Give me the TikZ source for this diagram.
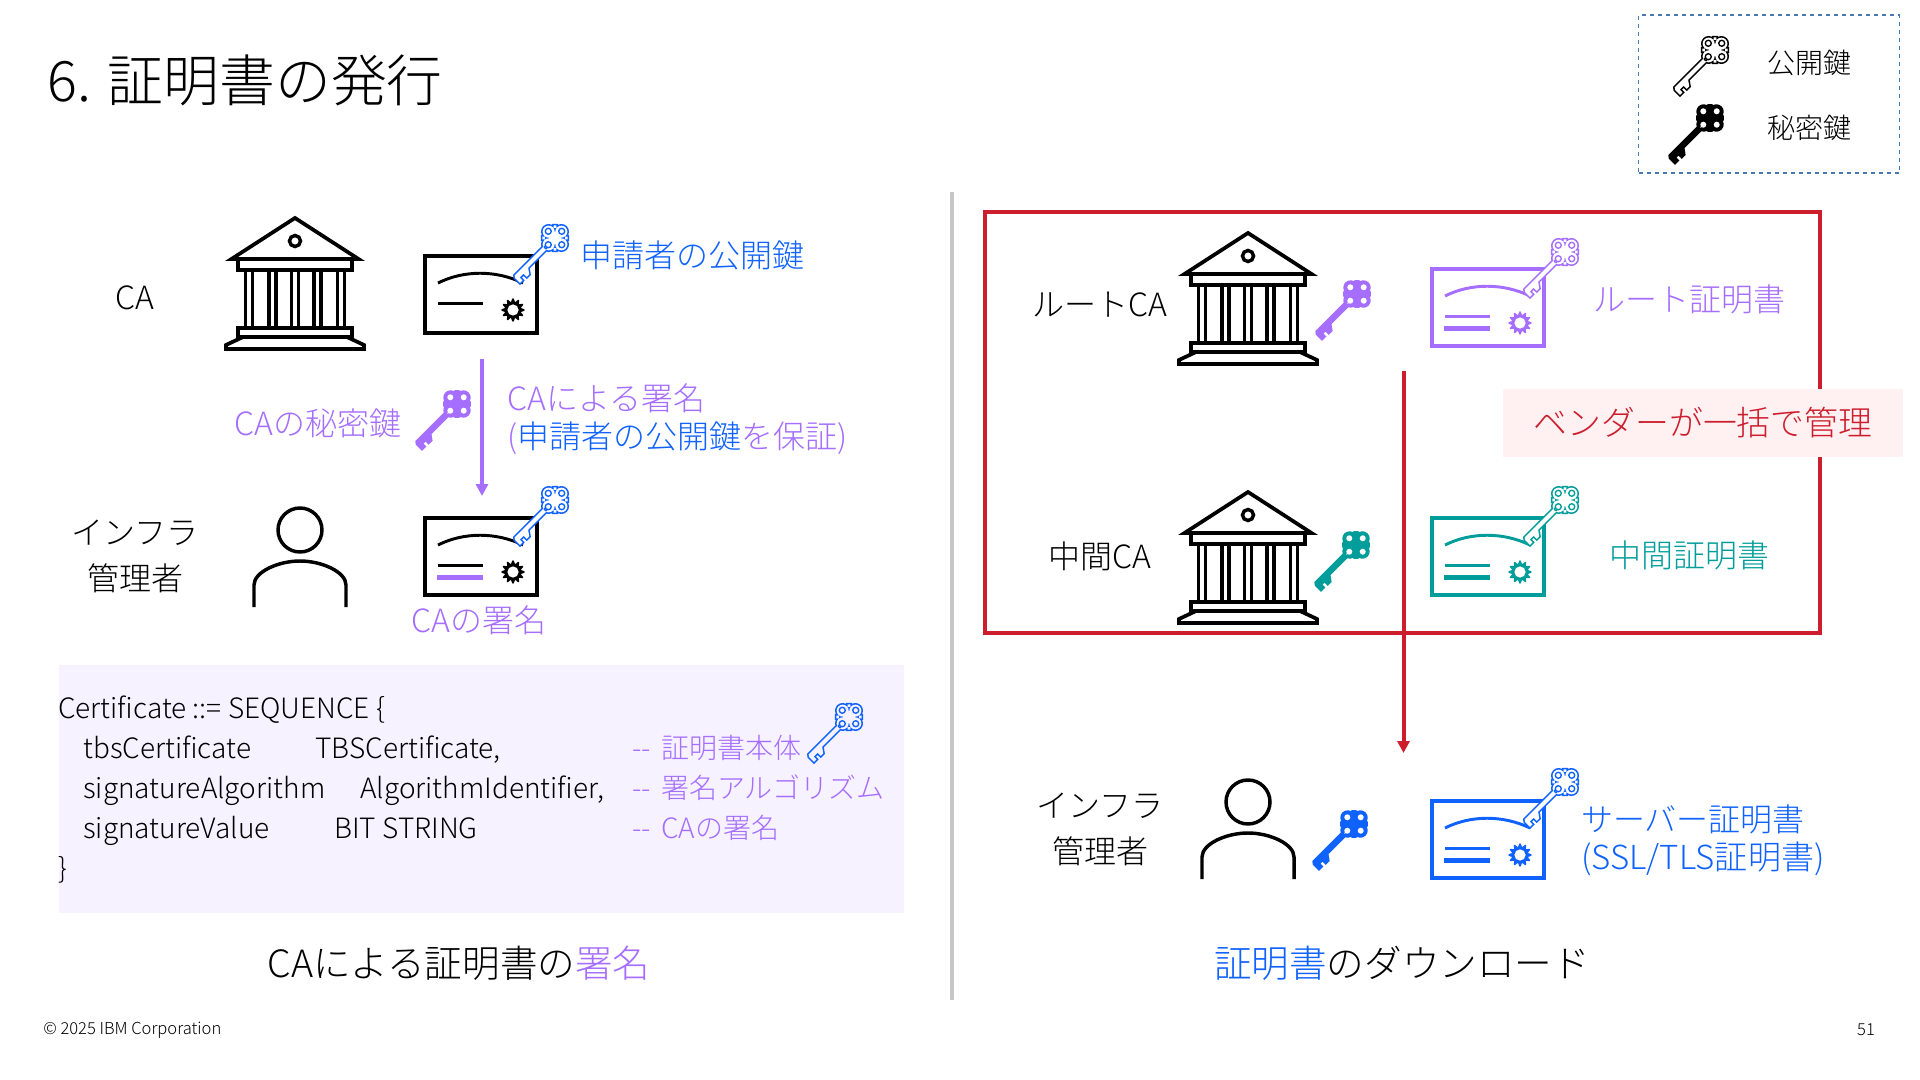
\documentclass[tikz,border=0pt]{standalone}
\usepackage{fontspec}
\setmainfont{Noto Sans CJK JP Light}
\definecolor{capurple}{RGB}{165, 110, 255}
\definecolor{certblue}{RGB}{15, 98, 254}
\definecolor{midteal}{RGB}{0, 157, 154}
\definecolor{vendred}{RGB}{205, 30, 45}
\definecolor{codebg}{RGB}{246, 242, 255}
\definecolor{vendbg}{RGB}{255, 241, 241}
\definecolor{legblue}{RGB}{70, 120, 180}
\usetikzlibrary{arrows.meta}
\def\keyshape{(0,0) circle (6) (0,-9) circle (6) (0,9) circle (6) (-9,0) circle (6) (9,0) circle (6)
  (8,8) circle (1.8) (8,-8) circle (1.8) (-8,8) circle (1.8) (-8,-8) circle (1.8)
  (10,2) -- (55,2) -- (56.5,0) -- (56.5,-7) -- (53,-7) -- (53,-3) -- (47.5,-3) -- (47.5,-7.5) -- (44,-7.5) -- (40,-2) -- (10,-2) -- cycle}
\def\keyholes{(0,-9.5) circle (3) (0,9.5) circle (3) (-9.5,0) circle (3) (9.5,0) circle (3)}
\begin{document}
\begin{tikzpicture}[
  x=0.75pt, y=-0.75pt,
  lbl/.style={font=\fontsize{24}{34.5}\selectfont, align=center, inner sep=0pt},
  legtxt/.style={font=\fontsize{21}{24}\selectfont, inner sep=0pt},
  codetxt/.style={font=\fontsize{21}{24}\selectfont, anchor=base west, inner sep=0pt},
  captxt/.style={font=\fontsize{28.2}{32}\selectfont, inner sep=0pt},
  pics/building/.style={code={
    \draw[line width=2.8pt, line join=miter] (-63.5,41) -- (0,0) -- (63.5,41) -- cycle;
    \draw[line width=2.6pt] (0,23) circle (5.5);
    \draw[line width=2.8pt] (-57,41) rectangle (57,52);
    \draw[line width=2.6pt] (-49.5,52) -- (-49.5,110) (-42.5,52) -- (-42.5,110)
      (-26,52) -- (-26,110) (-19,52) -- (-19,110) (-3.5,52) -- (-3.5,110) (3.5,52) -- (3.5,110)
      (19,52) -- (19,110) (26,52) -- (26,110) (42.5,52) -- (42.5,110) (49.5,52) -- (49.5,110);
    \draw[line width=2.8pt] (-57,110) rectangle (57,119);
    \draw[line width=2.8pt] (-52,119) -- (-69,127) -- (-69,131) -- (69,131) -- (69,127) -- (52,119);
  }},
  pics/certbox/.style n args={2}{code={
    \draw[#1, line width=2.6pt] (0,0) rectangle (112,77);
    \draw[#1, line width=2.2pt] (13,27) .. controls (39,14) and (71,14) .. (98,27);
    \draw[#1, line width=2.2pt] (13,47.5) -- (58,47.5);
    \draw[draw=#2, line width=3.4pt] (12,59.5) -- (58,59.5);
    \fill[#1, shift={(88,54)}] plot[samples=97, domain=0:360] (\x:{10+1.7*cos(12*\x)}) -- cycle;
    \fill[white] (88,54) circle (5.6);
  }},
  pics/person/.style={code={
    \draw[line width=2.6pt] (0,0) circle (22);
    \draw[line width=2.6pt] (-46,77) -- (-46,55) .. controls (-46,42) and (-22,31) .. (0,31) .. controls (22,31) and (46,42) .. (46,55) -- (46,77);
  }},
  pics/keyline/.style n args={2}{code={
    \path[draw=#1, line width=2.4pt, rotate=225] \keyshape;
    \path[fill=#2, rotate=225] \keyshape;
    \draw[#1, line width=1pt, fill=#2, rotate=225] \keyholes;
  }},
  pics/keysolid/.style={code={
    \path[fill=#1, draw=#1, line width=2pt, rotate=225] \keyshape;
    \fill[white, rotate=225] \keyholes;
  }}
]
  \useasboundingbox (0,0) rectangle (1920,1080);
  \node[anchor=west, inner sep=0pt, font=\fontsize{41.9}{48}\selectfont] (pagetitle) at (47,80) {6. 証明書の発行};

  % legend
  \node[draw=legblue, dashed, line width=1pt, inner sep=0pt, minimum width=195.5pt, minimum height=118.5pt] (legendbox) at (1769,94) {};
  \pic at (1715,50) {keyline={black}{white}};
  \pic at (1710,118) {keysolid=black};
  \node[legtxt] (legpub) at (1809,63) {公開鍵};
  \node[legtxt] (legpriv) at (1809,128) {秘密鍵};

  % left side
  \draw[line width=3.4pt, color=black!22] (952,192) coordinate (divtop) -- (952,1000) coordinate (divbot);
  \node[lbl] (calabel) at (135,298) {CA};
  \pic at (295,218) {building};
  \pic at (425,256) {certbox={black}{none}};
  \pic at (555,238) {keyline={certblue}{white}};
  \node[lbl, text=certblue] (pubkeylabel) at (692,255) {申請者の公開鍵};
  \node[lbl, text=capurple] (privlabel) at (318,423) {CAの秘密鍵};
  \pic at (457,404) {keysolid=capurple};
  \coordinate (signtop) at (482,359);
  \coordinate (signbot) at (482,496);
  \draw[capurple, line width=3pt, -{Triangle[length=9pt,width=9pt]}] (signtop) -- (signbot);
  \node[lbl, anchor=west, text=capurple] (signlabel) at (507,398.5) {CAによる署名};
  \node[lbl, anchor=west, text=capurple] (signlabeltwo) at (507,438) {(\textcolor{certblue}{申請者の公開鍵}を保証)};
  \node[lbl] (infraleft) at (135,556.5) {インフラ\\管理者};
  \pic at (300,530) {person};
  \pic at (425,518) {certbox={black}{capurple}};
  \pic at (555,500) {keyline={certblue}{white}};
  \node[lbl, text=capurple] (sigcap) at (479,620) {CAの署名};

  % code block
  \node[fill=codebg, inner sep=0pt, minimum width=634pt, minimum height=186.5pt] (codebox) at (481.5,789) {};
  \node[codetxt] (codeline) at (58,718) {Certificate ::= SEQUENCE \{};
  \node[codetxt] (tbsname) at (83,758) {tbsCertificate};
  \node[codetxt] (tbstype) at (315,758) {TBSCertificate,};
  \node[codetxt, text=capurple] (tbsnote) at (632,758) {-{}-\hspace{3pt} 証明書本体};
  \node[codetxt] (algname) at (83,798) {signatureAlgorithm};
  \node[codetxt] (algtype) at (360,798) {AlgorithmIdentifier,};
  \node[codetxt, text=capurple] (algnote) at (632,798) {-{}-\hspace{3pt} 署名アルゴリズム};
  \node[codetxt] (valname) at (83,838) {signatureValue};
  \node[codetxt] (valtype) at (334,838) {BIT STRING};
  \node[codetxt, text=capurple] (valnote) at (632,838) {-{}-\hspace{3pt} CAの署名};
  \node[codetxt] (codeend) at (58,878) {\}};
  \pic at (849,717) {keyline={certblue}{codebg}};
  \node[captxt] (leftcap) at (459,963) {CAによる証明書の\textcolor{capurple}{署名}};

  % right side
  \node[draw=vendred, line width=3.3pt, inner sep=0pt, minimum width=626.5pt, minimum height=316pt] (vendorbox) at (1402.5,422.5) {};
  \coordinate (dltop) at (1403.5,371);
  \coordinate (dlbot) at (1403.5,753);
  \draw[vendred, line width=3pt, -{Triangle[length=9pt,width=9pt]}] (dltop) -- (dlbot);
  \node[lbl] (rootlabel) at (1100,305) {ルートCA};
  \pic at (1248,233) {building};
  \pic at (1357,294) {keysolid=capurple};
  \pic at (1432,269) {certbox={capurple}{capurple}};
  \pic at (1565,252) {keyline={capurple}{white}};
  \node[lbl, text=capurple] (rootcert) at (1689,299) {ルート証明書};
  \node[lbl] (midlabel) at (1100,556) {中間CA};
  \pic at (1248,492) {building};
  \pic at (1356,545) {keysolid=midteal};
  \pic at (1432,518) {certbox={midteal}{midteal}};
  \pic at (1565,500) {keyline={midteal}{white}};
  \node[lbl, text=midteal] (midcert) at (1689,555) {中間証明書};
  \node[fill=vendbg, inner sep=0pt, minimum width=300pt, minimum height=51pt, text=vendred, font=\fontsize{25.4}{30}\selectfont] (vendorlabel) at (1703,423) {ベンダーが一括で管理};
  \node[lbl] (infraright) at (1100,829.5) {インフラ\\管理者};
  \pic at (1248,802) {person};
  \pic at (1354,824) {keysolid=certblue};
  \pic at (1432,801) {certbox={certblue}{certblue}};
  \pic at (1565,782) {keyline={certblue}{white}};
  \node[lbl, anchor=west, text=certblue] (servercert) at (1581,819.5) {サーバー証明書};
  \node[lbl, anchor=west, text=certblue, font=\fontsize{24.8}{34.5}\selectfont] (servertwo) at (1581,859) {(SSL/TLS証明書)};
  \node[captxt] (rightcap) at (1402,963) {\textcolor{certblue}{証明書}のダウンロード};

  % footer
  \node[anchor=west, inner sep=0pt, font=\fontsize{12.4}{14}\selectfont] (copyr) at (43,1030) {© 2025 IBM Corporation};
  \node[inner sep=0pt, font=\fontsize{12.4}{14}\selectfont] (pagenum) at (1866,1030) {51};
\end{tikzpicture}
\end{document}
